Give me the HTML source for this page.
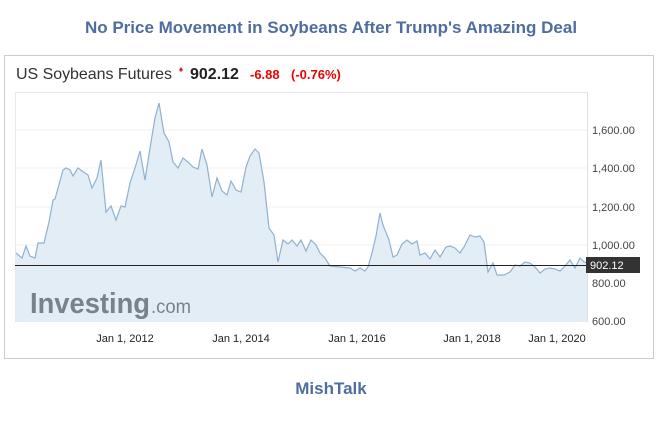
<!DOCTYPE html>
<html><head><style>
body{margin:0;background:#fff;width:662px;height:420px;overflow:hidden;font-family:"Liberation Sans",Arial,sans-serif}
</style></head><body>
<svg width="662" height="420" xmlns="http://www.w3.org/2000/svg" font-family="Liberation Sans, Arial, sans-serif">
<text x="331" y="33" text-anchor="middle" font-size="17" font-weight="bold" fill="#4f6d9e">No Price Movement in Soybeans After Trump's Amazing Deal</text>
<rect x="4.5" y="55.5" width="649" height="303" fill="#fff" stroke="#ccc"/>
<text x="16" y="79" font-size="16" fill="#333" textLength="156">US Soybeans Futures</text>
<path d="M181 67 l2 3 -2 2 -2 -2z" fill="#e02020"/>
<text x="190" y="79" font-size="16" font-weight="bold" fill="#222">902.12</text>
<text x="250" y="79" font-size="13" font-weight="bold" fill="#e00">-6.88</text>
<text x="291" y="79" font-size="13" font-weight="bold" fill="#e00">(-0.76%)</text>
<line x1="15.5" y1="92" x2="15.5" y2="322" stroke="#e8e8e8"/>
<line x1="15" y1="92.5" x2="588" y2="92.5" stroke="#e8e8e8"/>
<g stroke="#f0f0f0"><line x1="15" y1="130" x2="588" y2="130"/><line x1="15" y1="168" x2="588" y2="168"/><line x1="15" y1="207" x2="588" y2="207"/><line x1="15" y1="245" x2="588" y2="245"/><line x1="15" y1="283" x2="588" y2="283"/></g>
<line x1="587.5" y1="92" x2="587.5" y2="322" stroke="#e0e0e0"/>
<polygon fill="#e2edf5" stroke="none" points="16,322 16,253 22,258 26,246 30,256 35,258 38,243 44,243 49,222 53,200 55,199 63,170 66,168 70,170 73,176 78,168 82,171 85,173 88,175 92,188 97,178 101,160 106,212 111,206 116,220 121,206 125,207 130,183 135,168 140,151 145,180 150,148 155,118 159,103 164,133 169,142 173,162 178,168 183,158 188,162 193,167 198,169 202,149 207,165 212,197 217,178 222,191 227,195 231,181 236,190 241,192 246,167 250,156 255,149 259,153 264,182 269,228 274,235 278,262 283,240 288,244 292,240 297,246 301,240 306,251 311,240 316,245 320,253 325,258 330,266 340,267 350,268 355,271 360,268 365,271 368,267 372,253 376,236 380,213 383,225 389,240 393,257 397,255 402,244 407,240 412,244 417,241 420,255 425,253 430,259 435,250 440,257 446,247 450,246 455,248 460,253 464,247 470,235 475,237 480,236 484,242 488,272 493,263 497,275 504,275 510,272 515,265 520,266 525,262 530,263 535,267 540,273 545,269 550,268 555,269 560,271 565,266 570,260 575,268 580,258 584,262 587,263 587,322"/>
<polyline fill="none" stroke="#8fb1d2" stroke-width="1.2" points="16,253 22,258 26,246 30,256 35,258 38,243 44,243 49,222 53,200 55,199 63,170 66,168 70,170 73,176 78,168 82,171 85,173 88,175 92,188 97,178 101,160 106,212 111,206 116,220 121,206 125,207 130,183 135,168 140,151 145,180 150,148 155,118 159,103 164,133 169,142 173,162 178,168 183,158 188,162 193,167 198,169 202,149 207,165 212,197 217,178 222,191 227,195 231,181 236,190 241,192 246,167 250,156 255,149 259,153 264,182 269,228 274,235 278,262 283,240 288,244 292,240 297,246 301,240 306,251 311,240 316,245 320,253 325,258 330,266 340,267 350,268 355,271 360,268 365,271 368,267 372,253 376,236 380,213 383,225 389,240 393,257 397,255 402,244 407,240 412,244 417,241 420,255 425,253 430,259 435,250 440,257 446,247 450,246 455,248 460,253 464,247 470,235 475,237 480,236 484,242 488,272 493,263 497,275 504,275 510,272 515,265 520,266 525,262 530,263 535,267 540,273 545,269 550,268 555,269 560,271 565,266 570,260 575,268 580,258 584,262 587,263"/>
<line x1="15" y1="265.5" x2="588" y2="265.5" stroke="#222" stroke-width="1"/>
<rect x="586" y="257" width="54" height="16" fill="#333"/>
<text x="590" y="269" font-size="11" fill="#fff">902.12</text>
<text x="30" y="313" font-size="29" font-weight="bold" fill="#7a8287" textLength="120" lengthAdjust="spacingAndGlyphs">Investing</text>
<text x="151" y="313" font-size="19" fill="#7a8287" textLength="40" lengthAdjust="spacingAndGlyphs">.com</text>
<g font-size="11" fill="#444">
<text x="592" y="134">1,600.00</text><text x="592" y="172">1,400.00</text><text x="592" y="211">1,200.00</text><text x="592" y="249">1,000.00</text><text x="592" y="287">800.00</text><text x="592" y="325">600.00</text>
</g>
<g font-size="11" fill="#222" text-anchor="middle">
<text x="125" y="342">Jan 1, 2012</text><text x="241" y="342">Jan 1, 2014</text><text x="357" y="342">Jan 1, 2016</text><text x="472" y="342">Jan 1, 2018</text><text x="557" y="342">Jan 1, 2020</text>
</g>
<text x="331" y="394" text-anchor="middle" font-size="17" font-weight="bold" fill="#4f6d9e">MishTalk</text>
</svg>
</body></html>
